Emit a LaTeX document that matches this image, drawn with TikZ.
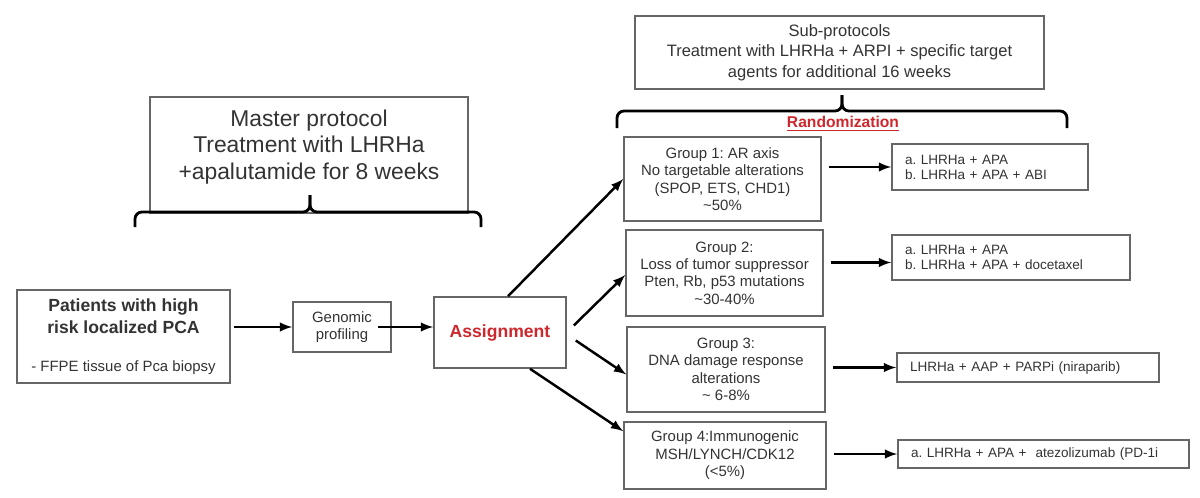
\documentclass[tikz,border=0pt]{standalone}
\usepackage{fontspec}
\setmainfont{Liberation Sans}
\frenchspacing
\definecolor{assignred}{RGB}{205,40,45}
\tikzset{
  box/.style={draw=black!60, line width=0.9pt, text=black!80, align=center, inner sep=0pt},
  grp/.style={box, font=\fontsize{8.5}{9.9}\selectfont},
  res/.style={box, align=left, inner xsep=0.26cm, font=\fontsize{7.7}{8.6}\selectfont},
  arr/.style={-latex, line width=1.4pt},
  bracket/.style={line width=1.6pt, rounded corners=4pt}
}
\begin{document}
\begin{tikzpicture}[x=0.02cm, y=-0.02cm]
        \useasboundingbox (0,0) rectangle (1200,497);
        % master protocol
        \node [box, minimum width=6.36cm, minimum height=2.32cm] (master) at (309,155) {};
        \node [align=center, text=black!80, font=\fontsize{13}{15}\selectfont] (mastertxt) at (309,147)
            {Master protocol\\Treatment with LHRHa\\+apalutamide for 8 weeks};
        \coordinate (mtip) at (310,195);
        \draw [bracket] (135,227) |- (310,212) -- (mtip);
        \draw [bracket] (481,227) |- (310,212) -- (mtip);
        % sub-protocols
        \node [box, minimum width=8.18cm, minimum height=1.46cm, font=\fontsize{9.4}{11.6}\selectfont] (subprot) at (839.5,52.5)
            {Sub-protocols\\Treatment with LHRHa + ARPI + specific target\\agents for additional 16 weeks};
        \coordinate (stip) at (842,95);
        \draw [bracket] (617,128) |- (842,111) -- (stip);
        \draw [bracket] (1067,128) |- (842,111) -- (stip);
        \node [text=assignred, font=\bfseries\fontsize{8.9}{10}\selectfont] (rand) at (843,124) {\underline{Randomization}};
        % left chain
        \node [box, minimum width=4.26cm, minimum height=1.86cm, font=\bfseries\fontsize{10}{12.5}\selectfont] (patients) at (123.5,336.5)
            {Patients with high\\risk localized PCA\\[9pt]
             \mdseries\fontsize{8.5}{10}\selectfont - FFPE tissue of Pca biopsy};
        \node [box, minimum width=1.96cm, minimum height=1.0cm, font=\fontsize{8.5}{9.7}\selectfont] (genomic) at (342,327)
            {Genomic\\profiling};
        \node [box, minimum width=2.64cm, minimum height=1.42cm, text=assignred, font=\bfseries\fontsize{10}{12}\selectfont] (assign) at (500,332.5)
            {Assignment};
        \draw [arr, shorten <=2pt] (patients.east |- genomic.west) -- (genomic.west);
        \draw [arr] ([shift={(-14,0)}]genomic.east) -- (genomic.east -| assign.west);
        % groups
        \node [grp, minimum width=3.94cm, minimum height=1.68cm] (g1) at (722.5,179)
            {Group 1: AR axis\\No targetable alterations\\(SPOP, ETS, CHD1)\\\textasciitilde 50\%};
        \node [grp, minimum width=3.94cm, minimum height=1.72cm] (g2) at (724.5,273)
            {Group 2:\\Loss of tumor suppressor\\Pten, Rb, p53 mutations\\\textasciitilde 30-40\%};
        \node [grp, minimum width=3.96cm, minimum height=1.70cm] (g3) at (726,369.5)
            {Group 3:\\DNA damage response\\alterations\\\textasciitilde\ 6-8\%};
        \node [grp, minimum width=4.04cm, minimum height=1.34cm] (g4) at (725,455.5)
            {Group 4:Immunogenic\\MSH/LYNCH/CDK12\\(<5\%)};
        \draw [arr] ([shift={(8,0)}]assign.north) -- (g1.west);
        \draw [arr] ([shift={(7,-7)}]assign.east) -- ([shift={(0,2)}]g2.west);
        \draw [arr] ([shift={(9,8)}]assign.east) -- ([shift={(0,5)}]g3.west);
        \draw [arr] ([shift={(30,0)}]assign.south) -- ([shift={(0,10)}]g4.north west);
        % treatment arms
        \node [res, text width=3.40cm, minimum height=0.92cm] (r1) at (990,167)
            {a. LHRHa + APA\\b. LHRHa + APA + ABI};
        \node [res, text width=4.24cm, minimum height=0.90cm] (r2) at (1011,257.5)
            {a. LHRHa + APA\\b. LHRHa + APA + docetaxel};
        \node [res, text width=4.72cm, minimum height=0.58cm] (r3) at (1028,367.5)
            {LHRHa + AAP + PARPi (niraparib)};
        \node [res, text width=5.30cm, minimum height=0.56cm] (r4) at (1043.5,454)
            {a. LHRHa + APA +\ \ atezolizumab (PD-1i};
        \draw [arr, shorten <=4pt] (g1.east |- r1.west) -- (r1.west);
        \draw [arr, shorten <=4pt] ([shift={(0,5)}]g2.east |- r2.west) -- ([shift={(0,5)}]r2.west);
        \draw [arr, shorten <=4pt] (g3.east |- r3.west) -- (r3.west);
        \draw [arr, shorten <=4pt] (g4.east |- r4.west) -- (r4.west);
\end{tikzpicture}
\end{document}
